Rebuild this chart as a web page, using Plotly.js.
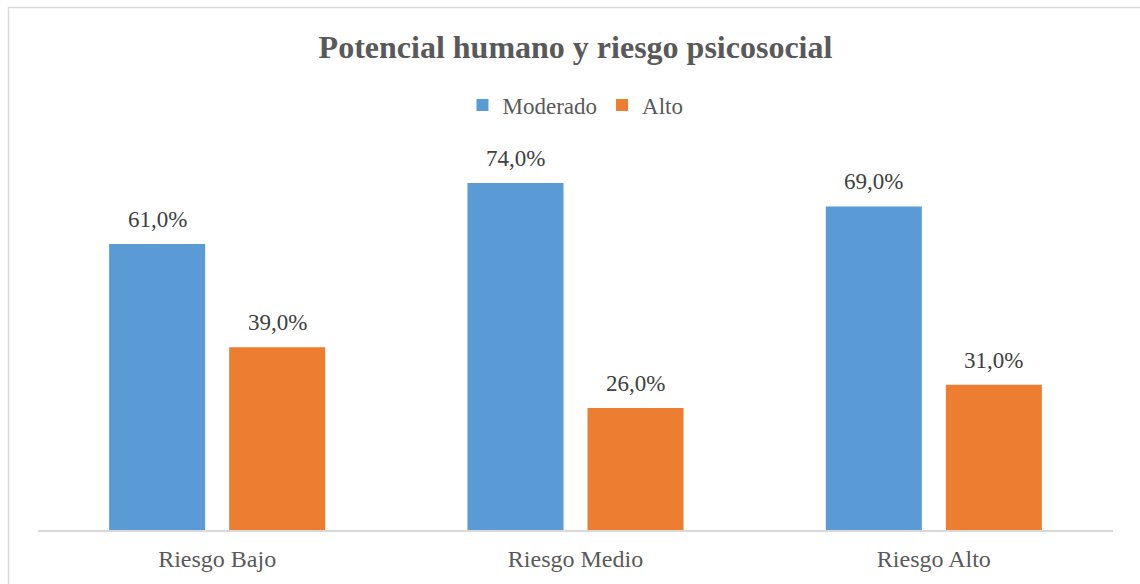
<!DOCTYPE html>
<html>
<head>
<meta charset="utf-8">
<script src="https://cdn.plot.ly/plotly-3.0.1.min.js"></script>
<style>html,body{margin:0;padding:0;background:#fff;}#chart{width:1140px;height:584px;}</style>
</head>
<body>
<div id="chart"></div>
<script>
const categories = ["Riesgo Bajo", "Riesgo Medio", "Riesgo Alto"];
const moderado = [61.0, 74.0, 69.0];
const alto = [39.0, 26.0, 31.0];
const seriesNames = ["Moderado", "Alto"];

const fmt = v => v.toFixed(1).replace('.', ',') + '%';
const FONT = 'Liberation Serif, Times New Roman, serif';

const mk = (name, vals, color) => ({
  type: 'bar', name: name, x: categories, y: vals,
  marker: {color: color},
  hoverinfo: 'skip'
});

const data = [
  mk(seriesNames[0], moderado, '#5B9BD5'),
  mk(seriesNames[1], alto, '#ED7D31')
];

const L = 38, R = 1113, T = 130, B = 530;
const W = R - L, H = B - T;
const px = x => (x - L) / W;
const py = y => (B - y) / H;

const annotations = [];
[[moderado, -60], [alto, 60]].forEach(([vals, dx]) => {
  vals.forEach((v, i) => annotations.push({
    x: categories[i], y: v, xref: 'x', yref: 'y', text: fmt(v), showarrow: false,
    xshift: dx, yanchor: 'bottom', yshift: 10,
    font: {family: FONT, size: 23, color: '#404040'}
  }));
});

const layout = {
  width: 1140, height: 584,
  margin: {l: L, r: 1140 - R, t: T, b: 584 - B, pad: 0},
  paper_bgcolor: '#fff', plot_bgcolor: '#fff',
  font: {family: FONT, color: '#595959'},
  title: {text: '<b>Potencial humano y riesgo psicosocial</b>', font: {family: FONT, size: 32, color: '#595959'},
          x: 0.5, xref: 'paper', y: 1 - 47/584, yref: 'container', yanchor: 'middle'},
  barmode: 'group', bargap: 0.33, bargroupgap: 0.2,
  showlegend: true,
  legend: {orientation: 'h', x: 0.5, xanchor: 'center', y: py(105), yanchor: 'middle',
           font: {family: FONT, size: 23, color: '#595959'}, traceorder: 'normal', itemclick: false},
  xaxis: {showline: true, linecolor: '#d9d9d9', linewidth: 1.5, ticks: '', showgrid: false,
          ticklabelstandoff: 7,
          tickfont: {family: FONT, size: 24, color: '#595959'}, fixedrange: true},
  yaxis: {range: [0, H / 4.689], visible: false, showgrid: false, zeroline: false, fixedrange: true},
  annotations: annotations,
  shapes: [
    {type: 'line', xref: 'paper', yref: 'paper', x0: px(8), x1: px(1145), y0: py(7.5), y1: py(7.5), line: {color: '#d9d9d9', width: 1.5}},
    {type: 'line', xref: 'paper', yref: 'paper', x0: px(8.5), x1: px(8.5), y0: py(7), y1: py(600), line: {color: '#d9d9d9', width: 1.5}}
  ]
};

Plotly.newPlot('chart', data, layout, {displayModeBar: false, staticPlot: true});
</script>
</body>
</html>
